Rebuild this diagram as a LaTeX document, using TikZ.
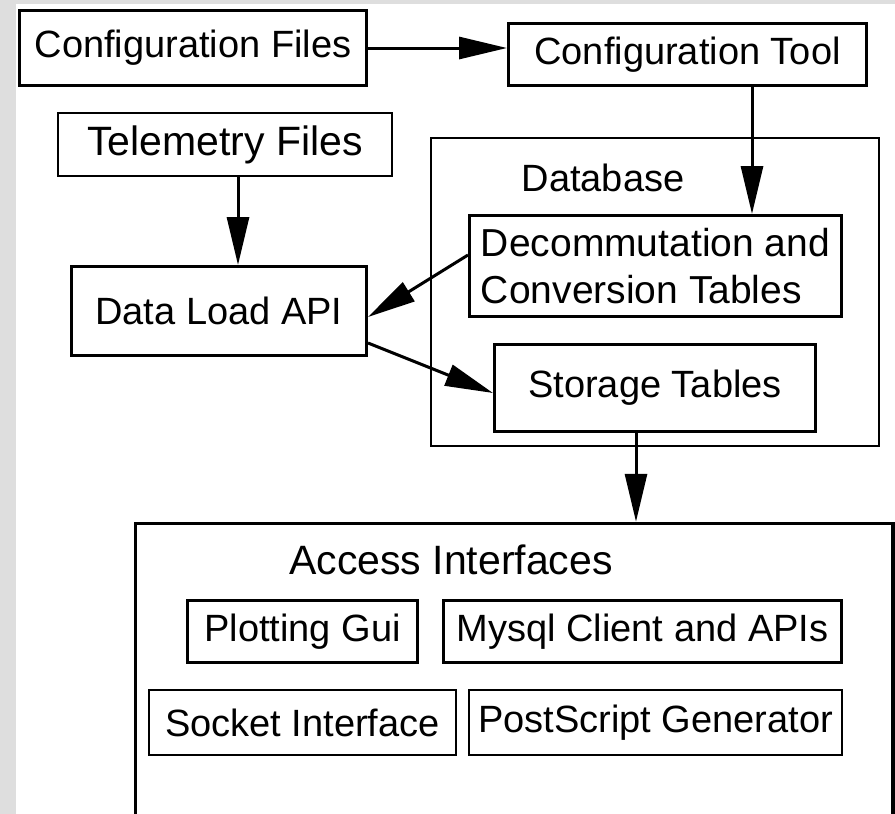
\documentclass[tikz,border=0pt]{standalone}
\usepackage{fontspec}
\setmainfont{Liberation Sans}
\usepackage{xcolor}
\usetikzlibrary{arrows.meta,calc}
\definecolor{framegray}{HTML}{DEDEDE}

\begin{document}
\begin{tikzpicture}[
    x=1pt, y=-1pt,
    font=\fontsize{38}{47}\selectfont,
    box/.style={
        draw=black,
        line width=3pt,
        inner sep=2pt,
        align=center
    },
    thinbox/.style={
        box,
        line width=2pt
    },
    arr/.style={-{Triangle[length=48pt,width=22pt]}, line width=3pt}
]

% page
\useasboundingbox (0,0) rectangle (895,814);
\fill[framegray] (0,0) rectangle (895,814);
\fill[white] (16,4) rectangle (895,814);
\clip (0,0) rectangle (895,814);

% top row
\node[box, minimum width=347pt, minimum height=75pt] (cfgfiles) at (193,48)
{Configuration Files};

\node[box, minimum width=358pt, minimum height=62pt] (cfgtool) at (687.5,54.5)
{Configuration Tool};

% loading side
\node[box, line width=2.5pt, minimum width=334pt, minimum height=63pt,
      font=\fontsize{41}{47}\selectfont] (tele) at (225,144.5)
{Telemetry Files};

\node[box, minimum width=295pt, minimum height=89pt] (load) at (219,311)
{Data Load API};

% database
\node[thinbox, minimum width=448pt, minimum height=308pt] (db) at (655,292) {};
\node (dblabel) at (603,178) {Database};

\node[box, align=left, minimum width=372pt, minimum height=101pt,
      font=\fontsize{39}{47}\selectfont] (decomm) at (655.5,266)
{Decommutation and\\Conversion Tables};

\node[box, minimum width=321pt, minimum height=87pt] (store) at (655,388)
{Storage Tables};

% access interfaces
\node[box, line width=3.5pt, minimum width=757.5pt, minimum height=326.5pt] (access) at (514.25,686.75) {};
\node[font=\fontsize{41}{47}\selectfont] (acclabel) at (451,560) {Access Interfaces};

\node[box, minimum width=230pt, minimum height=62pt] (plot) at (302.5,631.5)
{Plotting Gui};
\node[box, minimum width=398pt, minimum height=62pt] (mysql) at (642.5,631.5)
{Mysql Client and APIs};
\node[box, line width=2.5pt, minimum width=307pt, minimum height=65pt] (socket) at (302.5,722.5)
{Socket Interface};
\node[box, line width=2.5pt, minimum width=373pt, minimum height=65pt] (post) at (655.5,722.5)
{PostScript Generator};

% arrows
\draw[arr] (cfgfiles.east) -- (cfgfiles.east -| cfgtool.west);
\draw[arr] ([xshift=13pt]tele.south) -- ([xshift=19pt]load.north);
\draw[arr] ([xshift=64.5pt]cfgtool.south) -- ([xshift=96.5pt]decomm.north);
\draw[arr] ([yshift=11pt]decomm.west) -- ([yshift=-6pt]load.east);
\draw[arr] ([yshift=-32pt]load.east) -- ([yshift=-5pt]store.west);
\draw[arr] ([xshift=-19pt]store.south) -- ([xshift=121.75pt]access.north);

\end{tikzpicture}
\end{document}
